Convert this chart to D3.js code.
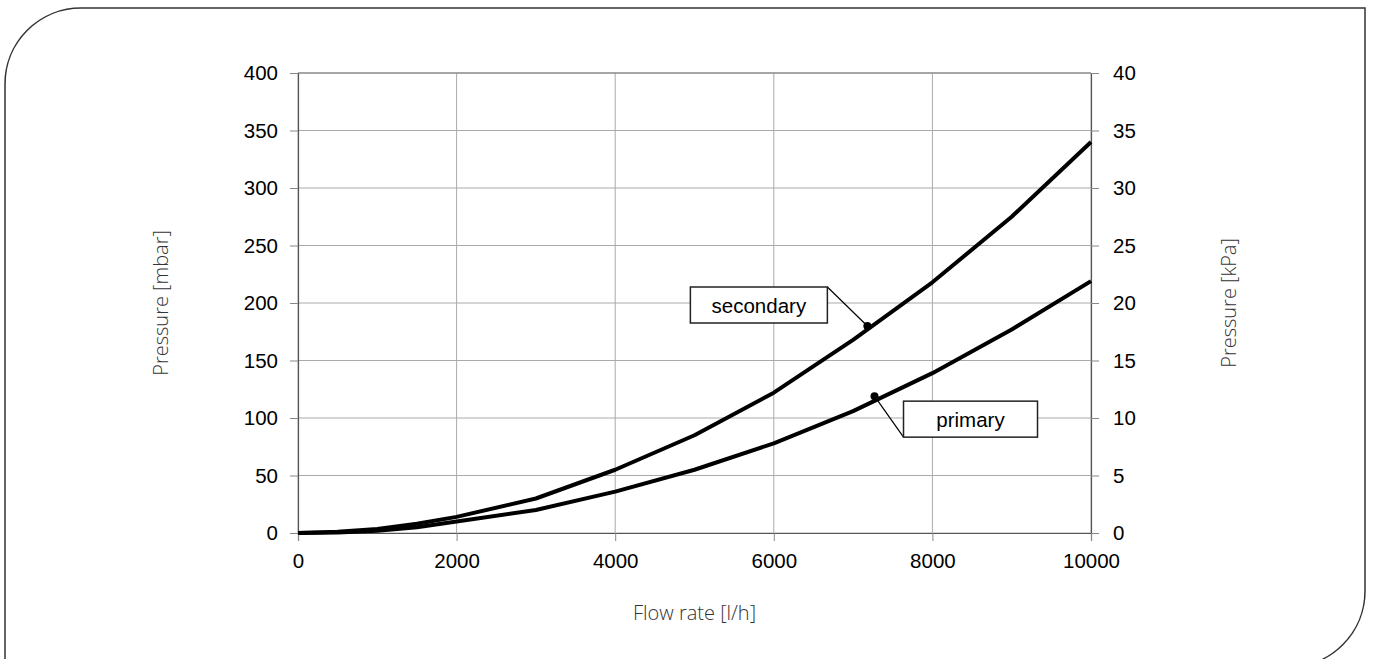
<!DOCTYPE html>
<html>
<head>
<meta charset="utf-8">
<script src="https://cdn.jsdelivr.net/npm/d3@7"></script>
<style>
  body { margin: 0; background: #fff; }
  svg { display: block; }
</style>
</head>
<body>
<div id="chart"><svg></svg></div>
<script>
const width = 1373;
const height = 659;

// flow rate in l/h and pressure drop in mbar
const flow = [0, 500, 1000, 1500, 2000, 3000, 4000, 5000, 6000, 7000, 8000, 9000, 10000];
const secondary = [0, 1, 3.5, 8, 14, 30, 55, 85, 122, 168, 218, 275, 340];
const primary = [0, 0.5, 2, 5, 10, 20, 36, 55, 78, 106, 139, 177, 219];

const xTicks = [0, 2000, 4000, 6000, 8000, 10000];
const mbarTicks = [0, 50, 100, 150, 200, 250, 300, 350, 400];
const kpaTicks = [0, 5, 10, 15, 20, 25, 30, 35, 40];

// callout labels: name, point on the curve (flow, mbar)
const labelNames = ['secondary', 'primary'];
const labelFlow = [7180, 7270];
const labelMbar = [180, 119];

const plot = {left: 298, right: 1091, top: 73, bottom: 533};

const x = d3.scaleLinear().domain([0, 10000]).range([plot.left, plot.right]);
const yL = d3.scaleLinear().domain([0, 400]).range([plot.bottom, plot.top]);
const yR = d3.scaleLinear().domain([0, 40]).range([plot.bottom, plot.top]);

const svg = d3.select('#chart').select('svg')
    .attr('width', width)
    .attr('height', height);

// rounded frame round the whole thing
const r = 76;
svg.append('path')
    .attr('d', `M5,${height + 2} V${8 + r} A${r},${r} 0 0 1 ${5 + r},8 H1365 V${667 - r} A${r},${r} 0 0 1 ${1365 - r},667`)
    .attr('fill', 'none')
    .attr('stroke', '#333')
    .attr('stroke-width', 1.5);

// grid
svg.append('g').selectAll('line')
    .data(xTicks)
    .join('line')
    .attr('x1', d => x(d)).attr('x2', d => x(d))
    .attr('y1', plot.top).attr('y2', plot.bottom)
    .attr('stroke', '#aaa').attr('stroke-width', 1);

svg.append('g').selectAll('line')
    .data(mbarTicks)
    .join('line')
    .attr('x1', plot.left).attr('x2', plot.right)
    .attr('y1', d => yL(d)).attr('y2', d => yL(d))
    .attr('stroke', '#aaa').attr('stroke-width', 1);

const tickFont = '"Liberation Sans", Arial, sans-serif';

const axisLeft = svg.append('g')
    .attr('transform', `translate(${plot.left},0)`)
    .call(d3.axisLeft(yL).tickValues(mbarTicks).tickSize(8).tickPadding(12));

const axisRight = svg.append('g')
    .attr('transform', `translate(${plot.right},0)`)
    .call(d3.axisRight(yR).tickValues(kpaTicks).tickSize(8).tickPadding(14));

const axisBottom = svg.append('g')
    .attr('transform', `translate(0,${plot.bottom})`)
    .call(d3.axisBottom(x).tickValues(xTicks).tickFormat(d3.format('d')).tickSize(8).tickPadding(12));

[axisLeft, axisRight, axisBottom].forEach(g => {
    g.select('.domain').attr('stroke', '#555').attr('stroke-width', 1.2);
    g.selectAll('.tick line').attr('stroke', '#888');
    g.selectAll('.tick text')
        .attr('fill', '#000')
        .style('font-family', tickFont)
        .style('font-size', '20.5px');
});

// top border of the plot box
svg.append('line')
    .attr('x1', plot.left).attr('x2', plot.right)
    .attr('y1', plot.top).attr('y2', plot.top)
    .attr('stroke', '#777').attr('stroke-width', 1);

// curves
const line = d3.line()
    .x((d, i) => x(flow[i]))
    .y(d => yL(d));

[secondary, primary].forEach(s => {
    svg.append('path')
        .datum(s)
        .attr('d', line)
        .attr('fill', 'none')
        .attr('stroke', '#000')
        .attr('stroke-width', 4)
        .attr('stroke-linejoin', 'round');
});

// callouts
const boxW = [137, 134];
const boxH = 36;
// box corner attached to the leader line, relative to the dot
const boxDx = [-40, 29];
const boxDy = [-39, 41];

labelNames.forEach((name, i) => {
    const px = x(labelFlow[i]);
    const py = yL(labelMbar[i]);
    const cx = px + boxDx[i];
    const cy = py + boxDy[i];
    // secondary hangs from its top-right corner, primary from its bottom-left corner
    const bx = i === 0 ? cx - boxW[i] : cx;
    const by = i === 0 ? cy : cy - boxH;

    svg.append('line')
        .attr('x1', cx).attr('y1', cy)
        .attr('x2', px).attr('y2', py)
        .attr('stroke', '#000').attr('stroke-width', 1.2);

    svg.append('circle')
        .attr('cx', px).attr('cy', py)
        .attr('r', 4)
        .attr('fill', '#000');

    svg.append('rect')
        .attr('x', bx).attr('y', by)
        .attr('width', boxW[i]).attr('height', boxH)
        .attr('fill', '#fff')
        .attr('stroke', '#222').attr('stroke-width', 1.5);

    svg.append('text')
        .attr('x', bx + boxW[i] / 2)
        .attr('y', by + boxH / 2)
        .attr('text-anchor', 'middle')
        .attr('dominant-baseline', 'central')
        .style('font-family', tickFont)
        .style('font-size', '20.5px')
        .text(name);
});

// axis titles
const titleStyle = sel => sel
    .attr('text-anchor', 'middle')
    .attr('dominant-baseline', 'central')
    .attr('fill', '#333')
    .style('font-family', '"Open Sans", sans-serif')
    .style('font-weight', 300)
    .style('font-size', '20px');

svg.append('text')
    .attr('transform', 'translate(160,303) rotate(-90)')
    .call(titleStyle)
    .text('Pressure [mbar]');

svg.append('text')
    .attr('transform', 'translate(1228,303) rotate(-90)')
    .call(titleStyle)
    .text('Pressure [kPa]');

svg.append('text')
    .attr('x', (plot.left + plot.right) / 2)
    .attr('y', 612)
    .call(titleStyle)
    .text('Flow rate [l/h]');
</script>
</body>
</html>
